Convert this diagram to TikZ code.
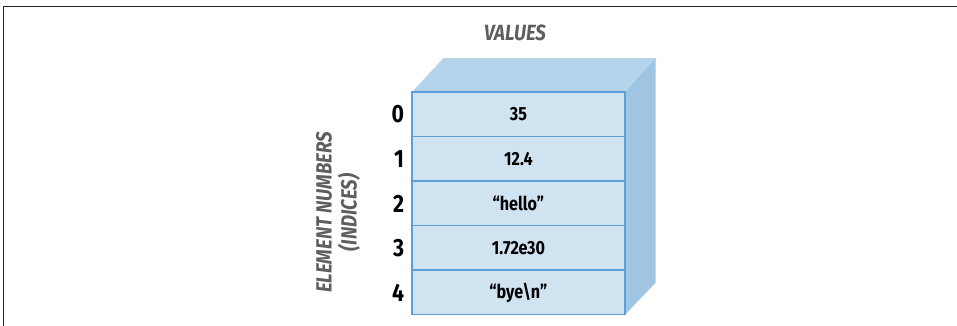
\documentclass[tikz,border=0pt]{standalone}
\usepackage{fontspec}
\setmainfont{Fira Sans}[FakeStretch=0.85]
\usetikzlibrary{positioning}

\definecolor{cellfill}{HTML}{D0E3F1}
\definecolor{cellline}{HTML}{5AA0D7}
\definecolor{topfill}{HTML}{B3D4EA}
\definecolor{sidefill}{HTML}{9FC5E2}
\definecolor{labelgray}{HTML}{5E5E5E}

\begin{document}
\begin{tikzpicture}[x=1pt,y=1pt,node distance=0pt]
      \tikzstyle{cell}=[draw=cellline,line width=1.5pt,fill=cellfill,rectangle,outer sep=0pt,
        minimum width=213.3pt,minimum height=44.5pt,font=\fontsize{19}{22}\selectfont\bfseries]
      \tikzstyle{index}=[inner sep=0pt,font=\fontsize{25}{28}\selectfont\bfseries]
      \tikzstyle{caption}=[text=labelgray,align=center,font=\fontsize{22}{25}\selectfont\bfseries\itshape]

      \useasboundingbox (0,0) rectangle (957,326);
      \draw[line width=1.5pt,black!85] (3.5,0) -- (3.5,319.5) -- (957,319.5);

      \node[cell] (c0) at (518.4,211.5) {35};
      \node[cell,below = of c0] (c1) {12.4};
      \node[cell,below = of c1] (c2) {“hello”};
      \node[cell,below = of c2] (c3) {1.72e30};
      \node[cell,below = of c3] (c4) {“bye\textbackslash n”};

      % top and side of the box
      \fill[topfill] (c0.north west) -- ++(31.6,34) -- ++(213.3,0) -- (c0.north east) -- cycle;
      \fill[sidefill] (c0.north east) -- ++(30.5,34) -- ([shift={(30.5,32)}]c4.south east)
        -- (c4.south east) -- cycle;
      \draw[cellline,line width=1.5pt] (c0.north west) rectangle (c4.south east);

      \node[index,left=7.5pt of c0] (i0) {0};
      \node[index,left=7.5pt of c1] (i1) {1};
      \node[index,left=7.5pt of c2] (i2) {2};
      \node[index,left=7.5pt of c3] (i3) {3};
      \node[index,left=7.5pt of c4] (i4) {4};

      \node[caption] (values) at (515,293.3) {VALUES};
      \node[caption,rotate=90] (numbers) at (338,113.5) {ELEMENT NUMBERS\\(INDICES)};
    \end{tikzpicture}
\end{document}
